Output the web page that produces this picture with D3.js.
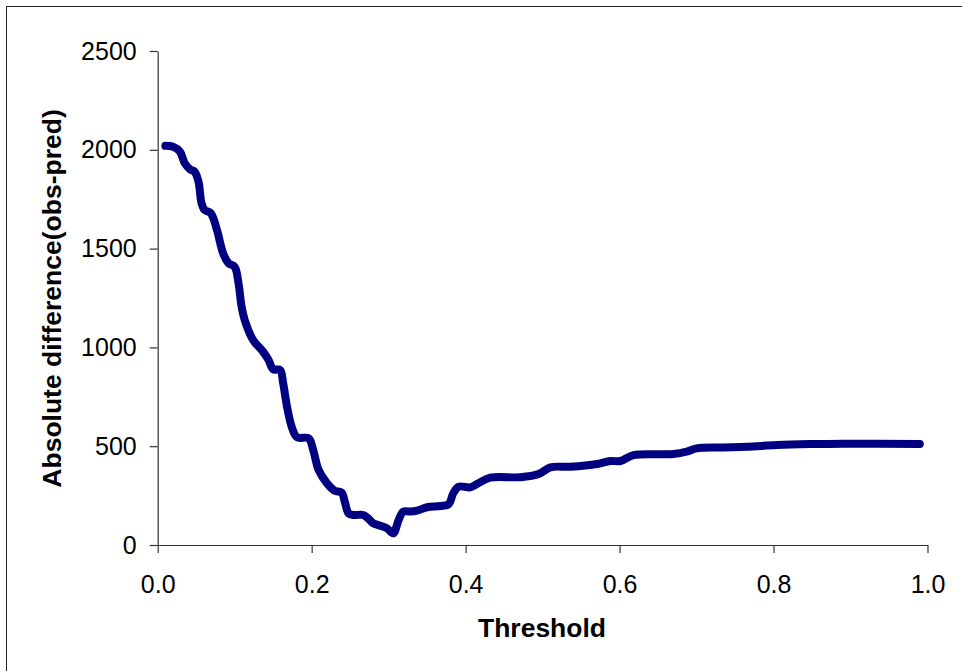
<!DOCTYPE html>
<html><head><meta charset="utf-8">
<script src="https://cdn.jsdelivr.net/npm/d3@7"></script>
<style>body{margin:0;background:#fff}svg{display:block}</style>
</head><body>
<script>
const threshold = [0.01,0.02,0.029,0.035,0.042,0.048,0.053,0.057,0.061,0.069,
0.077,0.085,0.092,0.100,0.105,0.109,0.113,0.124,0.137,0.144,
0.150,0.159,0.163,0.168,0.174,0.181,0.196,0.202,0.209,0.220,
0.230,0.239,0.243,0.248,0.254,0.267,0.274,0.280,0.289,0.298,
0.306,0.313,0.319,0.328,0.337,0.350,0.367,0.378,0.384,0.391,
0.406,0.415,0.432,0.471,0.495,0.510,0.536,0.571,0.588,0.601,
0.618,0.670,0.687,0.700,0.731,0.765,0.804,0.848,0.891,0.99];
const absDiff = [2020,2015,1990,1933,1901,1889,1839,1729,1695,1679,
1594,1476,1426,1408,1324,1206,1139,1037,978,936,
889,886,818,700,599,545,540,481,380,312,
275,265,219,160,152,152,132,110,98,84,
59,127,169,169,174,191,197,207,262,295,
292,309,341,343,359,393,396,410,425,425,
455,460,472,489,494,497,506,511,513,511];
const xTicks = [0,0.2,0.4,0.6,0.8,1.0];
const yTicks = [0,500,1000,1500,2000,2500];
const xTitle = "Threshold";
const yTitle = "Absolute difference(obs-pred)";

const W = 962, H = 671;
const svg = d3.select("body").append("svg").attr("width", W).attr("height", H);
svg.append("rect").attr("x",6.5).attr("y",6.5).attr("width",1000).attr("height",1000)
  .attr("fill","none").attr("stroke","#222").attr("stroke-width",1);

const x = d3.scaleLinear().domain([0,1]).range([157.7,927.5]);
const y = d3.scaleLinear().domain([0,2500]).range([545,51]);
const font = "'Liberation Sans', Arial, sans-serif";

const xAxis = svg.append("g").attr("transform","translate(0,545)")
  .call(d3.axisBottom(x).tickValues(xTicks).tickFormat(d3.format(".1f")).tickSizeInner(8).tickSizeOuter(0).tickPadding(22));
const yAxis = svg.append("g").attr("transform","translate(157.7,0)")
  .call(d3.axisLeft(y).tickValues(yTicks).tickFormat(d3.format("d")).tickSizeInner(8).tickSizeOuter(0).tickPadding(13));
[xAxis,yAxis].forEach(g=>{
  g.select(".domain").attr("stroke","#333").attr("stroke-width",1.2);
  g.selectAll(".tick line").attr("stroke","#333").attr("stroke-width",1.2);
  g.selectAll("text").attr("font-family",font).attr("font-size",25).attr("fill","#000");
});

const line = d3.line().x((d,i)=>x(threshold[i])).y(d=>y(d)).curve(d3.curveCatmullRom.alpha(0.5));
svg.append("path").datum(absDiff).attr("d",line).attr("fill","none")
  .attr("stroke","#000080").attr("stroke-width",8).attr("stroke-linecap","round").attr("stroke-linejoin","round");

svg.append("text").attr("x",542).attr("y",637).attr("text-anchor","middle")
  .attr("font-family",font).attr("font-weight","bold").attr("font-size",26.5).text(xTitle);
svg.append("text").attr("transform","translate(61,298.5) rotate(-90)").attr("text-anchor","middle")
  .attr("font-family",font).attr("font-weight","bold").attr("font-size",26.5).text(yTitle);
</script>
</body></html>
